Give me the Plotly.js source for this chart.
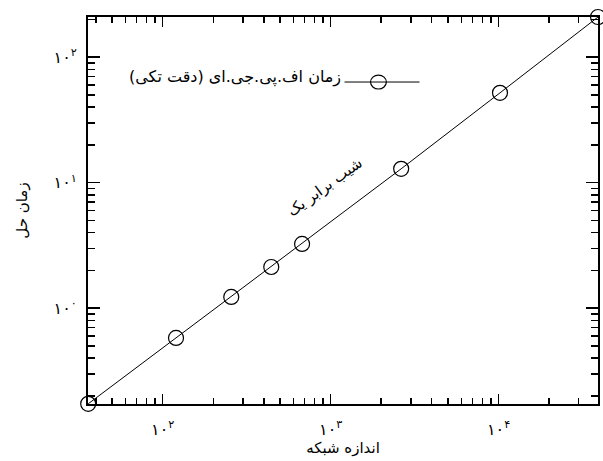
<!DOCTYPE html>
<html>
<head>
<meta charset="utf-8">
<script src="https://cdn.plot.ly/plotly-3.0.1.min.js"></script>
<style>
  body { margin: 0; background: #fff; }
  #plot { width: 603px; height: 461px; }
</style>
</head>
<body>
<div id="plot"></div>
<script>
// grid size vs. solve time
const gridSize = [36, 120, 256, 443, 676, 2630, 10200, 39100]
const solveTime = [0.173, 0.58, 1.23, 2.13, 3.25, 12.9, 52, 209]

const xMajor = [100, 1000, 10000]
const xMajorText = ['۱۰<sup>۲</sup>', '۱۰<sup>۳</sup>', '۱۰<sup>۴</sup>']
const yMajor = [1, 10, 100]
const yMajorText = ['۱۰<sup>۰</sup>', '۱۰<sup>۱</sup>', '۱۰<sup>۲</sup>']

const xMinor = [40, 50, 60, 70, 80, 90, 200, 300, 400, 500, 600, 700, 800, 900,
    2000, 3000, 4000, 5000, 6000, 7000, 8000, 9000, 20000, 30000]
const yMinor = [0.2, 0.3, 0.4, 0.5, 0.6, 0.7, 0.8, 0.9, 2, 3, 4, 5, 6, 7, 8, 9,
    20, 30, 40, 50, 60, 70, 80, 90, 200]

const legendText = '\u200Fزمان اف.پی.جی.ای (دقت تکی)\u200F'
const slopeText = '\u200Fشیب برابر یک\u200F'

const fontFamily = 'DejaVu Sans, sans-serif'

const trace = {
    x: gridSize,
    y: solveTime,
    type: 'scatter',
    mode: 'lines+markers',
    line: { color: '#000', width: 1 },
    marker: { symbol: 'circle-open', size: 15, color: '#000', line: { width: 1.2 } },
    cliponaxis: false,
    showlegend: false
}

const axisBase = {
    type: 'log',
    showgrid: false,
    zeroline: false,
    showline: true,
    linecolor: '#000',
    linewidth: 2,
    mirror: 'allticks',
    ticks: 'inside',
    tickcolor: '#000',
    tickwidth: 1.5,
    tickmode: 'array',
    tickfont: { family: fontFamily, size: 16, color: '#000' }
}

const layout = {
    width: 603,
    height: 461,
    margin: { l: 88, r: 5, t: 17, b: 57 },
    paper_bgcolor: '#fff',
    plot_bgcolor: '#fff',
    font: { family: fontFamily, color: '#000' },
    xaxis: {
        ...axisBase,
        range: [Math.log10(35.9), Math.log10(39100)],
        tickvals: xMajor,
        ticktext: xMajorText,
        ticklen: 10,
        ticklabelstandoff: 10,
        minor: { tickvals: xMinor, ticks: 'inside', ticklen: 6, tickwidth: 1.5, tickcolor: '#000' },
        title: { text: 'اندازه شبکه', font: { family: fontFamily, size: 15 }, standoff: 4 }
    },
    yaxis: {
        ...axisBase,
        range: [Math.log10(0.1725), Math.log10(209)],
        tickvals: yMajor,
        ticktext: yMajorText,
        ticklen: 12,
        ticklabelstandoff: 6,
        minor: { tickvals: yMinor, ticks: 'inside', ticklen: 7, tickwidth: 1.5, tickcolor: '#000' },
        title: { text: 'زمان حل', font: { family: fontFamily, size: 15 }, standoff: 22 }
    },
    shapes: [
        { type: 'line', xref: 'paper', yref: 'paper', x0: 0.503, x1: 0.65, y0: 0.832, y1: 0.832,
          line: { color: '#000', width: 1 } },
        { type: 'circle', xref: 'paper', yref: 'paper', x0: 0.554, x1: 0.585, y0: 0.814, y1: 0.850,
          line: { color: '#000', width: 1.2 }, fillcolor: 'rgba(0,0,0,0)' }
    ],
    annotations: [
        { xref: 'paper', yref: 'paper', x: 0.5, y: 0.845, xanchor: 'right', yanchor: 'middle',
          text: legendText, showarrow: false, font: { family: fontFamily, size: 16, color: '#000' } },
        { xref: 'paper', yref: 'paper', x: 0.464, y: 0.56, xanchor: 'center', yanchor: 'middle',
          text: slopeText, textangle: -36, showarrow: false,
          font: { family: fontFamily, size: 15, color: '#000' } }
    ]
}

Plotly.newPlot('plot', [trace], layout, { displayModeBar: false, staticPlot: true })
</script>
</body>
</html>
